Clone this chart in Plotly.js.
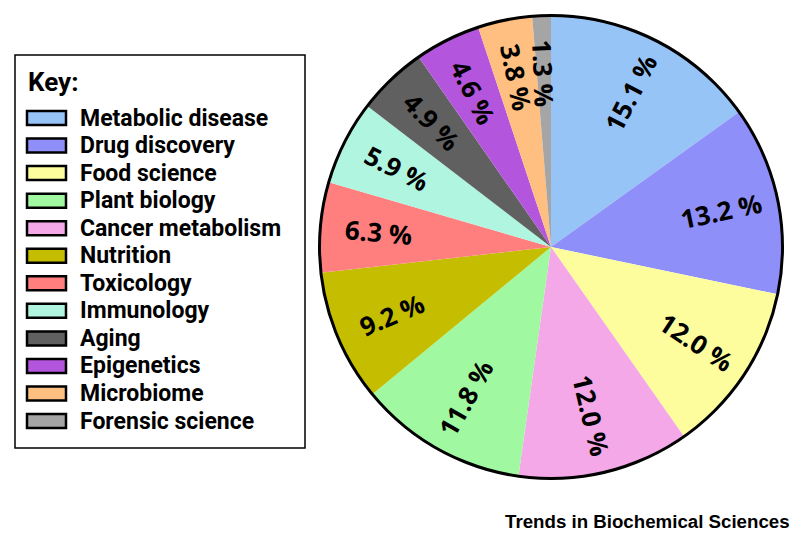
<!DOCTYPE html>
<html>
<head>
<meta charset="utf-8">
<script src="https://cdn.plot.ly/plotly-3.0.1.min.js"></script>
<style>html,body{margin:0;padding:0;background:#fff;}#chart{width:800px;height:546px;}</style>
</head>
<body>
<div id="chart"></div>
<script>
// Slices in pie order (clockwise from 12 o'clock)
const categories = ["Metabolic disease", "Drug discovery", "Food science", "Cancer metabolism",
  "Plant biology", "Nutrition", "Toxicology", "Immunology", "Aging", "Epigenetics",
  "Microbiome", "Forensic science"];
const shares = [15.1, 13.2, 12.0, 12.0, 11.8, 9.2, 6.3, 5.9, 4.9, 4.6, 3.8, 1.3];
const sliceColors = ["#97c4f7", "#8f8ff9", "#fdfd9e", "#f4a8e8", "#a0f8a0", "#c4bd00",
  "#ff7f7f", "#b0f5e0", "#606060", "#b455dd", "#ffbf80", "#a5a5a5"];
// Order of entries in the key box
const keyOrder = ["Metabolic disease", "Drug discovery", "Food science", "Plant biology",
  "Cancer metabolism", "Nutrition", "Toxicology", "Immunology", "Aging", "Epigenetics",
  "Microbiome", "Forensic science"];
const keyTitle = "Key:";
const sourceText = "Trends in Biochemical Sciences";

const W = 800, H = 546;
const cx = 551, cy = 247, R = 231.5;
const dom = {x: [(cx - R) / W, (cx + R) / W], y: [1 - (cy + R) / H, 1 - (cy - R) / H]};
const py = p => 1 - p / H;
const px = p => p / W;

const sliceText = shares.map(v => v.toFixed(1) + " %");
const FONT = "'Open Sans', sans-serif";
const KEYFONT = "Roboto, 'Open Sans', sans-serif";

const trace = {
  type: "pie",
  labels: categories,
  values: shares,
  textinfo: "none",
  hoverinfo: "none",
  sort: false,
  direction: "clockwise",
  rotation: 0,
  domain: dom,
  marker: {colors: sliceColors, line: {width: 0}},
  showlegend: false
};

const shapes = [];
const annotations = [];
// pie outline
shapes.push({type: "circle", xref: "paper", yref: "paper",
  x0: dom.x[0], x1: dom.x[1], y0: dom.y[0], y1: dom.y[1],
  line: {color: "#000", width: 3}, layer: "above"});

// radial slice labels, placed from the cumulative shares
const total = shares.reduce((a, b) => a + b, 0);
let cum = 0;
shares.forEach((v, i) => {
  const mid = (cum + v / 2) / total * 360;
  cum += v;
  const rad = mid * Math.PI / 180;
  const rr = 0.75 * R;
  const x = cx + rr * Math.sin(rad), y = cy - rr * Math.cos(rad);
  const ang = mid < 180 ? mid - 90 : mid - 270;
  annotations.push({xref: "paper", yref: "paper", x: px(x), y: py(y),
    xanchor: "center", yanchor: "middle", text: sliceText[i], textangle: ang,
    showarrow: false, font: {family: FONT, size: 26, color: "#000", weight: 700}});
});

// key box
shapes.push({type: "rect", xref: "paper", yref: "paper",
  x0: px(15), x1: px(305), y0: py(448), y1: py(55),
  line: {color: "#000", width: 1.5}, fillcolor: "rgba(0,0,0,0)"});
annotations.push({xref: "paper", yref: "paper", x: px(26), y: py(82), xanchor: "left", yanchor: "middle",
  text: keyTitle, showarrow: false, font: {family: KEYFONT, size: 26, color: "#000", weight: 700}});
const row0 = 118, step = 27.55;
keyOrder.forEach((name, i) => {
  const idx = categories.indexOf(name);
  const yc = row0 + i * step;
  shapes.push({type: "rect", xref: "paper", yref: "paper",
    x0: px(27), x1: px(66), y0: py(yc + 7), y1: py(yc - 7),
    line: {color: "#000", width: 2.5}, fillcolor: sliceColors[idx]});
  annotations.push({xref: "paper", yref: "paper", x: px(78), y: py(yc), xanchor: "left", yanchor: "middle",
    text: name, showarrow: false, font: {family: KEYFONT, size: 23, color: "#000", weight: 700}});
});
annotations.push({xref: "paper", yref: "paper", x: px(792), y: py(521), xanchor: "right", yanchor: "middle",
  text: sourceText, showarrow: false,
  font: {family: "'Liberation Sans', Arial, sans-serif", size: 18.7, color: "#000", weight: 700}});

const layout = {
  width: W, height: H,
  margin: {l: 0, r: 0, t: 0, b: 0},
  paper_bgcolor: "#fff",
  showlegend: false,
  shapes: shapes,
  annotations: annotations
};

Plotly.newPlot("chart", [trace], layout, {staticPlot: true, displayModeBar: false});
</script>
</body>
</html>
